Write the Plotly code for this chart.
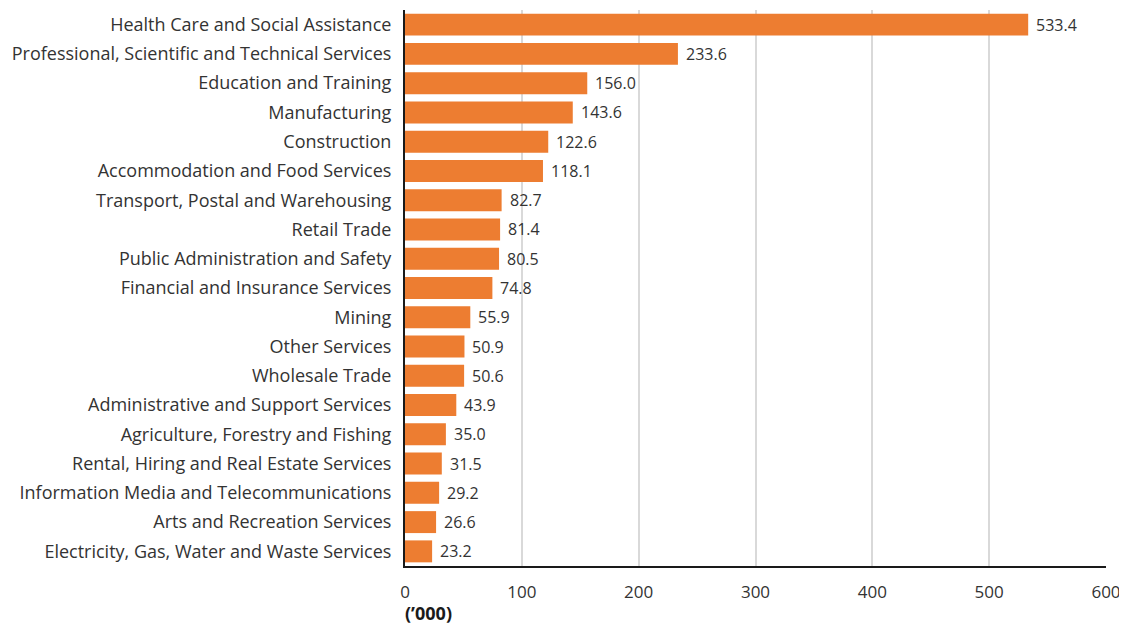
import plotly.graph_objects as go

categories = [
    "Health Care and Social Assistance",
    "Professional, Scientific and Technical Services",
    "Education and Training",
    "Manufacturing",
    "Construction",
    "Accommodation and Food Services",
    "Transport, Postal and Warehousing",
    "Retail Trade",
    "Public Administration and Safety",
    "Financial and Insurance Services",
    "Mining",
    "Other Services",
    "Wholesale Trade",
    "Administrative and Support Services",
    "Agriculture, Forestry and Fishing",
    "Rental, Hiring and Real Estate Services",
    "Information Media and Telecommunications",
    "Arts and Recreation Services",
    "Electricity, Gas, Water and Waste Services",
]
values = [533.4, 233.6, 156.0, 143.6, 122.6, 118.1, 82.7, 81.4, 80.5, 74.8,
          55.9, 50.9, 50.6, 43.9, 35.0, 31.5, 29.2, 26.6, 23.2]
x_ticks = [0, 100, 200, 300, 400, 500, 600]

font_family = "Open Sans, Noto Sans, sans-serif"

fig = go.Figure(go.Bar(
    x=values,
    y=categories,
    orientation="h",
    marker=dict(color="#ED7D31", line=dict(width=0)),
))

annotations = [
    dict(text=f"{v:.1f}", x=v, y=c, xref="x", yref="y",
         xanchor="left", yanchor="middle", xshift=6, showarrow=False,
         font=dict(size=16, color="#333333", family=font_family))
    for c, v in zip(categories, values)
]
annotations.append(dict(
    text="<b>(’000)</b>", x=0, xref="x", y=0, yref="paper",
    yshift=-47, xanchor="center", yanchor="middle", xshift=23,
    showarrow=False, font=dict(size=18, color="#1a1a1a", family=font_family),
))

fig.update_layout(
    width=1119, height=616,
    margin=dict(l=397, r=21, t=2, b=58),
    paper_bgcolor="white", plot_bgcolor="white",
    bargap=0.25,
    showlegend=False,
    font=dict(family=font_family, color="#333333"),
    xaxis=dict(
        range=[0, 600], tickvals=x_ticks, automargin=False,
        showgrid=True, gridcolor="#D9D9D9", gridwidth=2,
        showline=True, linecolor="#1a1a1a", linewidth=2,
        zeroline=False, ticks="", tickfont=dict(size=17, color="#333333"),
        ticklabelstandoff=10,
    ),
    yaxis=dict(
        autorange="reversed", automargin=False,
        showline=True, linecolor="#1a1a1a", linewidth=2,
        ticks="", tickfont=dict(size=18, color="#333333"),
        ticklabelstandoff=8,
    ),
    annotations=annotations,
)

fig.write_html("out.html")
